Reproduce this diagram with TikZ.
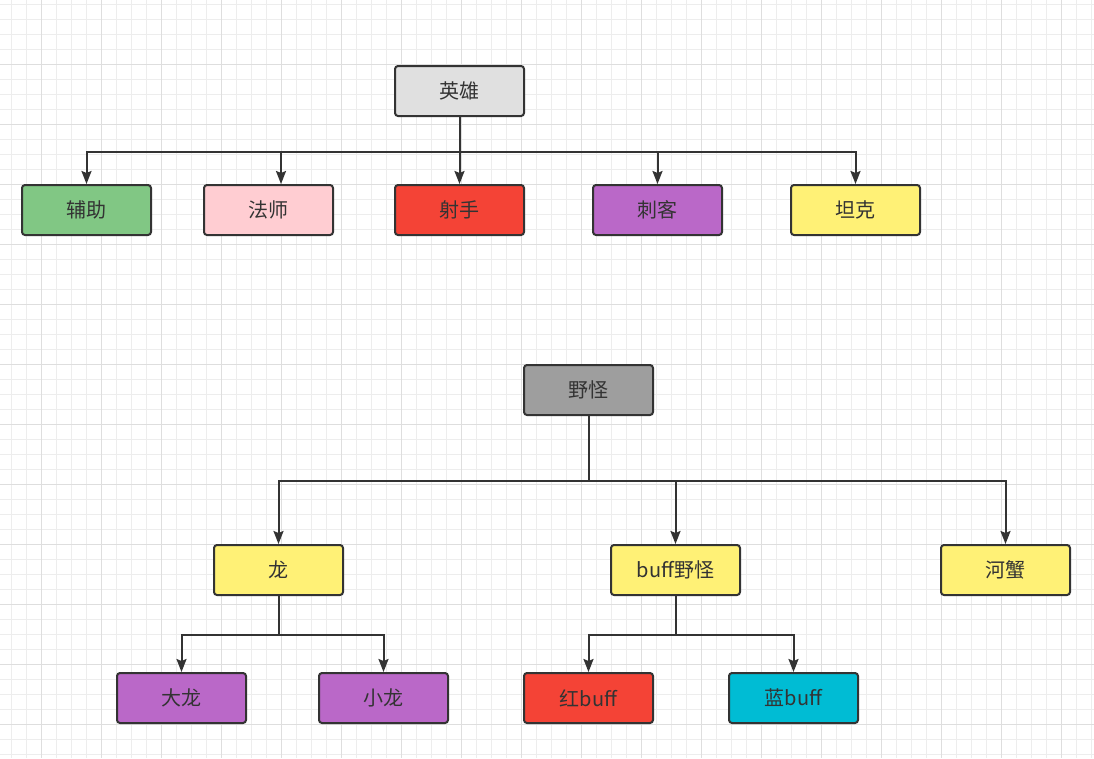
\documentclass[tikz,border=0pt]{standalone}
\usepackage{fontspec}
\setmainfont{Noto Sans CJK SC}
\usetikzlibrary{arrows.meta}
\definecolor{ink}{HTML}{333333}
\definecolor{gminor}{HTML}{EDEDED}
\definecolor{gmajor}{HTML}{DEDEDE}
\definecolor{cgreen}{HTML}{81C784}
\definecolor{cpink}{HTML}{FFCDD2}
\definecolor{cred}{HTML}{F44336}
\definecolor{cpurple}{HTML}{BA68C8}
\definecolor{cyellow}{HTML}{FFF176}
\definecolor{ccyan}{HTML}{00BCD4}
\definecolor{clgray}{HTML}{E0E0E0}
\definecolor{cdgray}{HTML}{9E9E9E}
\tikzset{
  box/.style={rectangle, draw=ink, line width=2pt, rounded corners=3pt,
    minimum width=129pt, minimum height=50pt, inner sep=0pt,
    text=ink, font=\fontsize{20}{24}\selectfont},
  edge/.style={draw=ink, line width=2pt, line join=miter,
    -{Stealth[length=13pt,width=10pt,inset=2pt]}}
}
\begin{document}
\begin{tikzpicture}[x=1pt,y=-1pt]
\useasboundingbox (0,0) rectangle (1094,758);
\fill[white] (0,0) rectangle (1094,758);
\begin{scope}
\clip (0,0) rectangle (1094,758);
\foreach \k in {0,...,72} {\draw[gminor, line width=1pt] (11.7+15*\k,0) -- (11.7+15*\k,758);}
\foreach \k in {0,...,50} {\draw[gminor, line width=1pt] (0,4+15*\k) -- (1094,4+15*\k);}
\foreach \k in {0,...,18} {\draw[gmajor, line width=1pt] (41.7+60*\k,0) -- (41.7+60*\k,758);}
\foreach \k in {0,...,12} {\draw[gmajor, line width=1pt] (0,64+60*\k) -- (1094,64+60*\k);}
\end{scope}

\node[box, fill=clgray] (hero) at (459.5,91) {英雄};
\node[box, fill=cgreen] (fuzhu) at (86.5,210) {辅助};
\node[box, fill=cpink] (fashi) at (268.5,210) {法师};
\node[box, fill=cred] (sheshou) at (459.5,210) {射手};
\node[box, fill=cpurple] (cike) at (657.5,210) {刺客};
\node[box, fill=cyellow] (tanke) at (855.5,210) {坦克};

\node[box, fill=cdgray] (yeguai) at (588.5,390) {野怪};
\node[box, fill=cyellow] (long) at (278.5,570) {龙};
\node[box, fill=cyellow] (buff) at (675.5,570) {buff野怪};
\node[box, fill=cyellow] (hexie) at (1005.5,570) {河蟹};
\node[box, fill=cpurple] (dalong) at (181.5,698) {大龙};
\node[box, fill=cpurple] (xiaolong) at (383.5,698) {小龙};
\node[box, fill=cred] (hong) at (588.5,698) {红buff};
\node[box, fill=ccyan] (lan) at (793.5,698) {蓝buff};

\draw[edge] (hero.south) -- ++(0,35) -| (fuzhu.north);
\draw[edge] (hero.south) -- ++(0,35) -| ([xshift=12.5pt]fashi.north);
\draw[edge] (hero.south) -- (sheshou.north);
\draw[edge] (hero.south) -- ++(0,35) -| (cike.north);
\draw[edge] (hero.south) -- ++(0,35) -| (tanke.north);

\draw[edge] (yeguai.south) -- ++(0,65) -| (long.north);
\draw[edge] (yeguai.south) -- ++(0,65) -| (buff.north);
\draw[edge] (yeguai.south) -- ++(0,65) -| (hexie.north);

\draw[edge] (long.south) -- ++(0,39) -| (dalong.north);
\draw[edge] (long.south) -- ++(0,39) -| (xiaolong.north);

\draw[edge] (buff.south) -- ++(0,39) -| (hong.north);
\draw[edge] (buff.south) -- ++(0,39) -| (lan.north);
\end{tikzpicture}
\end{document}
